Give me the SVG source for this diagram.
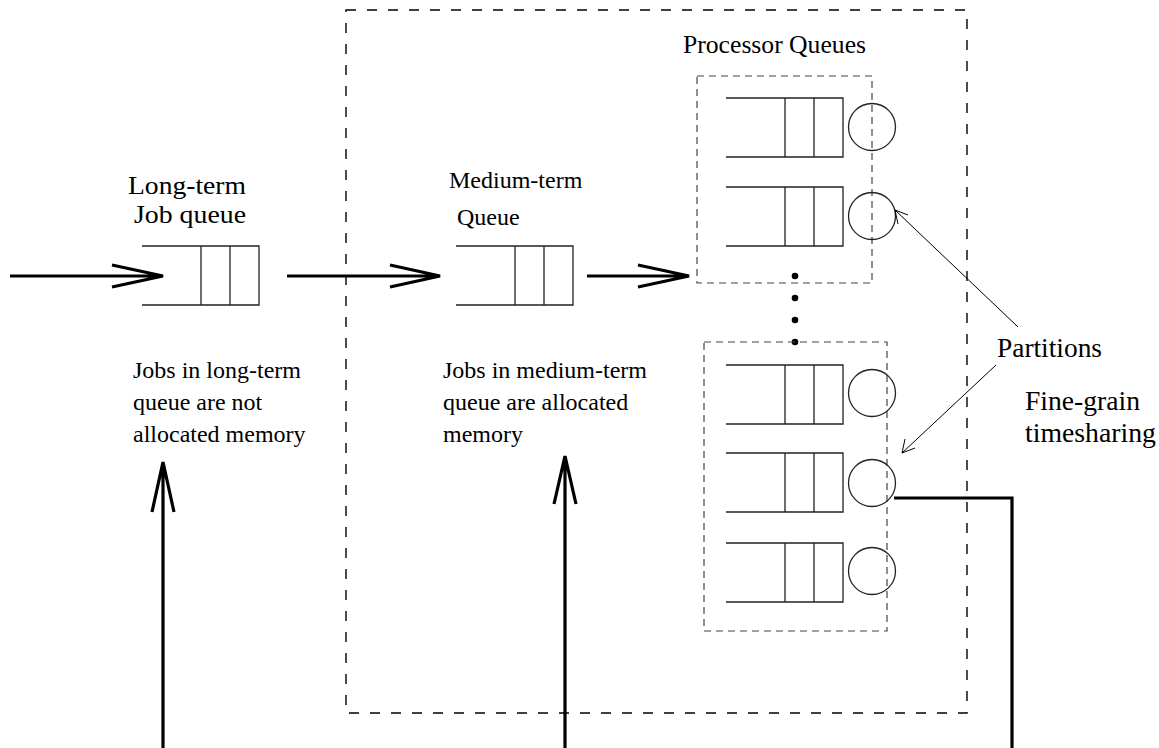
<svg xmlns="http://www.w3.org/2000/svg" width="1159" height="748" viewBox="0 0 1159 748">
<style>
text{font-family:"Liberation Serif","Times New Roman",serif;font-size:24px;fill:#000}
.mid{font-size:25.5px}
.big{font-size:27px}
.q{fill:none;stroke:#222;stroke-width:1.3}
.c{fill:none;stroke:#222;stroke-width:1.3}
.thick{fill:none;stroke:#000;stroke-width:3.2}
.thin{fill:none;stroke:#000;stroke-width:1}
.outer{fill:none;stroke:#000;stroke-width:1.4;stroke-dasharray:10 11}
.pbox{fill:none;stroke:#444;stroke-width:1.2;stroke-dasharray:7 5}
</style>
<defs>
<g id="queue">
<path class="q" d="M0 0H117V59H0M59 0V59M88 0V59"/>
</g>
</defs>
<g id="system-boundary"><rect class="outer" x="346" y="10" width="621" height="703"/></g>
<g id="long-term-queue">
<use href="#queue" x="142" y="246"/>
<text class="mid" x="128" y="194" textLength="118" lengthAdjust="spacingAndGlyphs">Long-term</text>
<text class="mid" x="134" y="223" textLength="112" lengthAdjust="spacingAndGlyphs">Job queue</text>
</g>
<g id="medium-term-queue">
<use href="#queue" x="456" y="246"/>
<text x="449" y="188">Medium-term</text>
<text x="457" y="225">Queue</text>
</g>
<g id="processor-queues-top">
<text class="mid" x="683" y="53" textLength="183" lengthAdjust="spacingAndGlyphs">Processor Queues</text>
<rect class="pbox" x="697" y="76" width="175" height="207"/>
<use href="#queue" x="726" y="98"/>
<circle class="c" cx="872" cy="127" r="23.5"/>
<use href="#queue" x="726" y="187"/>
<circle class="c" cx="872" cy="216" r="23.5"/>
</g>
<g id="ellipsis">
<circle cx="795" cy="276" r="3.3"/>
<circle cx="795" cy="298" r="3.3"/>
<circle cx="795" cy="320" r="3.3"/>
<circle cx="795" cy="342" r="3.3"/>
</g>
<g id="processor-queues-bottom">
<rect class="pbox" x="704" y="342" width="183" height="289"/>
<use href="#queue" x="726" y="365"/>
<circle class="c" cx="872" cy="393" r="23.5"/>
<use href="#queue" x="726" y="453"/>
<circle class="c" cx="872" cy="483" r="23.5"/>
<use href="#queue" x="726" y="543"/>
<circle class="c" cx="872" cy="571" r="23.5"/>
</g>
<g id="notes">
<text x="133" y="378">Jobs in long-term</text>
<text x="133" y="410">queue are not</text>
<text x="133" y="442">allocated memory</text>
<text x="443" y="378">Jobs in medium-term</text>
<text x="443" y="410">queue are allocated</text>
<text x="443" y="442">memory</text>
<text class="big" x="997" y="357" textLength="105" lengthAdjust="spacingAndGlyphs">Partitions</text>
<text class="big" x="1025" y="410" textLength="115" lengthAdjust="spacingAndGlyphs">Fine-grain</text>
<text class="big" x="1025" y="442" textLength="131" lengthAdjust="spacingAndGlyphs">timesharing</text>
</g>
<g id="connectors">
<path class="thick" d="M10 276H163M112 265L163 276L112 287"/>
<path class="thick" d="M287 276H440M390 265L440 276L390 287"/>
<path class="thick" d="M587 276H689M638 265L689 276L638 287"/>
<path class="thick" d="M163 748V462M152 512L163 462L174 512"/>
<path class="thick" d="M565 748V456M554 504L565 456L576 504"/>
<path class="thick" d="M894 498H1012V748"/>
<path class="thin" d="M1018 327L895 210M898 224L895 210L908 215"/>
<path class="thin" d="M996 365L902 453M905 439L902 453L915 448"/>
</g>
</svg>
